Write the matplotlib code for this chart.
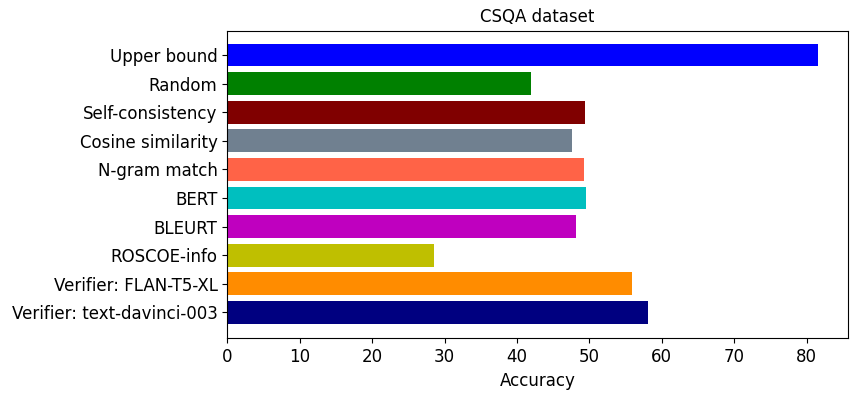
import matplotlib
matplotlib.use("Agg")
import matplotlib.pyplot as plt

methods = ["Verifier: text-davinci-003", "Verifier: FLAN-T5-XL", "ROSCOE-info", "BLEURT",
           "BERT", "N-gram match", "Cosine similarity", "Self-consistency", "Random", "Upper bound"]
accuracy = [58.1, 55.9, 28.6, 48.15, 49.55, 49.25, 47.6, 49.4, 41.95, 81.6]
colors = ["navy", "darkorange", "y", "m", "c", "tomato", "slategray", "maroon", "green", "blue"]

fig = plt.figure(figsize=(8.57, 3.93), dpi=100)
ax = fig.add_axes([227.3/857, 1-338.3/393, (847.7-227.3)/857, (338.3-30.7)/393])
ax.barh(methods, accuracy, color=colors)
ax.set_ylim(-0.91, 9.85)
ax.set_title("CSQA dataset", fontsize=12)
ax.set_xlabel("Accuracy", fontsize=12)
ax.tick_params(labelsize=12)
fig.savefig("out.png", dpi=100)
